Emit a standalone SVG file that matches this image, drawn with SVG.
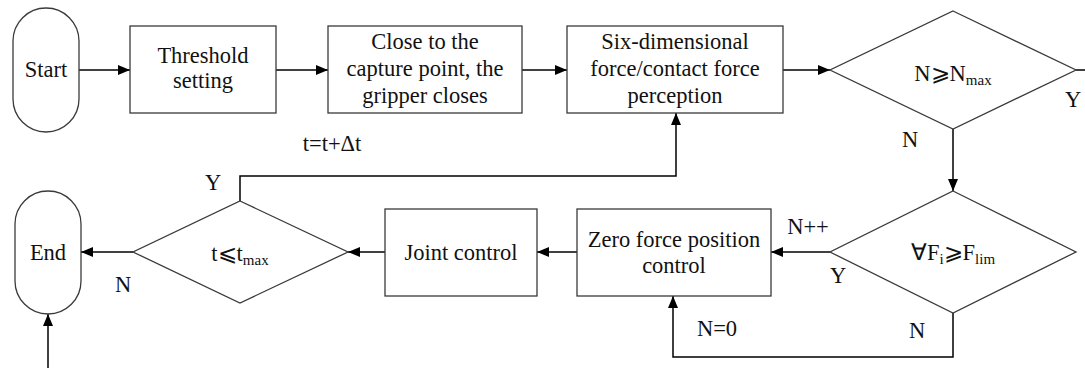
<svg xmlns="http://www.w3.org/2000/svg" width="1085" height="368" viewBox="0 0 1085 368" font-family="'Liberation Serif', 'Times New Roman', Times, serif" font-size="22.5">
  <style>
    .shape { fill: #fff; stroke: #3a3a3a; stroke-width: 1.3; }
    .wire { fill: none; stroke: #000; stroke-width: 1.5; }
    text { font-family: 'Liberation Serif', 'Times New Roman', Times, serif; font-size: 22.5px; fill: #111; }
    .c { text-anchor: middle; }
    .sub { font-size: 15px; }
  </style>
  <defs>
    <marker id="arrow" markerUnits="userSpaceOnUse" markerWidth="13" markerHeight="11" refX="12" refY="5" orient="auto">
      <path d="M0,0 L12,5 L0,10 z" fill="#000"/>
    </marker>
  </defs>

  <!-- connectors -->
  <g id="connectors" class="wire" marker-end="url(#arrow)">
    <path d="M79,70 H130"/>
    <path d="M276,70 H328"/>
    <path d="M522,70 H567"/>
    <path d="M783,70 H830"/>
    <path d="M953,129 V191"/>
    <path d="M830,252 H771"/>
    <path d="M953,313 V357 H673 V296"/>
    <path d="M577,252 H537"/>
    <path d="M385,252 H348"/>
    <path d="M240,201 V176 H676 V113"/>
    <path d="M133,252 H81"/>
    <path d="M48,368 V314"/>
  </g>
  <path class="wire" d="M1076,70 H1085"/>

  <!-- branch labels -->
  <g id="labels">
    <text x="332" y="151" class="c">t=t+Δt</text>
    <text x="910" y="147" class="c">N</text>
    <text x="1073" y="107" class="c">Y</text>
    <text x="808" y="234" class="c">N++</text>
    <text x="838" y="283" class="c">Y</text>
    <text x="717" y="336" class="c">N=0</text>
    <text x="917" y="338" class="c">N</text>
    <text x="213" y="190" class="c">Y</text>
    <text x="123" y="292" class="c">N</text>
  </g>

  <g id="start">
    <rect class="shape" x="13" y="8" width="66" height="124" rx="33" ry="33"/>
    <text x="46" y="77" class="c">Start</text>
  </g>

  <g id="threshold">
    <rect class="shape" x="130" y="26" width="146" height="87"/>
    <text x="203" y="63" class="c">Threshold</text>
    <text x="203" y="88" class="c">setting</text>
  </g>

  <g id="approach">
    <rect class="shape" x="328" y="26" width="194" height="87"/>
    <text x="425" y="49" class="c">Close to the</text>
    <text x="425" y="76" class="c">capture point, the</text>
    <text x="425" y="103" class="c">gripper closes</text>
  </g>

  <g id="perception">
    <rect class="shape" x="567" y="26" width="216" height="87"/>
    <text x="675" y="49" class="c">Six-dimensional</text>
    <text x="675" y="76" class="c">force/contact force</text>
    <text x="675" y="103" class="c">perception</text>
  </g>

  <g id="check-count">
    <polygon class="shape" points="953,11 1076,70 953,129 830,70"/>
    <text x="953" y="81" class="c">N⩾N<tspan class="sub" dy="4">max</tspan></text>
  </g>

  <g id="check-force">
    <polygon class="shape" points="953,191 1076,252 953,313 830,252"/>
    <text x="953" y="260" class="c">∀F<tspan class="sub" dy="4">i</tspan><tspan dy="-4">⩾F</tspan><tspan class="sub" dy="4">lim</tspan></text>
  </g>

  <g id="zero-force">
    <rect class="shape" x="577" y="209" width="194" height="87"/>
    <text x="674" y="247" class="c">Zero force position</text>
    <text x="674" y="273" class="c">control</text>
  </g>

  <g id="joint-control">
    <rect class="shape" x="385" y="209" width="152" height="87"/>
    <text x="461" y="260" class="c">Joint control</text>
  </g>

  <g id="check-time">
    <polygon class="shape" points="240,201 348,252 240,303 133,252"/>
    <text x="240" y="261" class="c">t⩽t<tspan class="sub" dy="4">max</tspan></text>
  </g>

  <g id="end">
    <rect class="shape" x="15" y="191" width="66" height="123" rx="33" ry="33"/>
    <text x="48" y="260" class="c">End</text>
  </g>
</svg>
